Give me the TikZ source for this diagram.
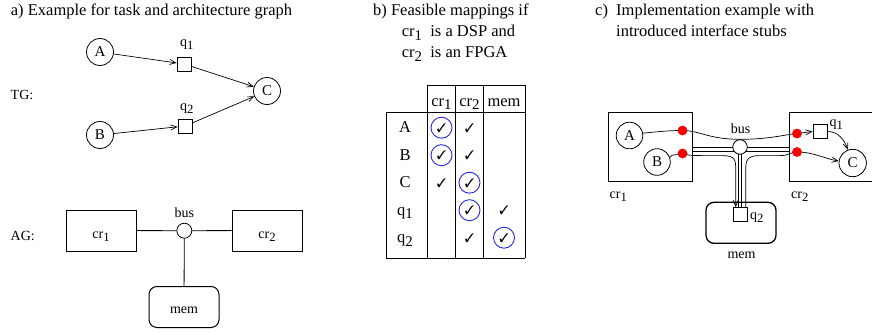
\documentclass[tikz,border=0pt]{standalone}
\usepackage{fontspec}
\setmainfont{Liberation Serif}
\usepackage{pifont}
\usetikzlibrary{arrows.meta,calc}
\newcommand\lsub[1]{\raisebox{-0.5ex}{\scalebox{0.9}{#1}}}
\definecolor{chkblue}{RGB}{40,40,230}
\definecolor{stubred}{RGB}{250,0,0}
\tikzset{
  ttl/.style={anchor=base west, font=\fontsize{16.5}{20}\selectfont, inner sep=0},
  lbl/.style={font=\fontsize{14}{16}\selectfont, inner sep=0},
  task/.style={circle, draw, line width=0.8pt, minimum size=27pt, inner sep=0, font=\fontsize{15}{16}\selectfont},
  comm/.style={rectangle, draw, line width=0.8pt, minimum size=14pt, inner sep=0},
  res/.style={rectangle, draw, line width=1pt, minimum width=70pt, minimum height=41pt, inner sep=0, font=\fontsize{14}{16}\selectfont, text height=15.6pt, text depth=0pt},
  memres/.style={res, rounded corners=8pt, text height=12.6pt},
  impres/.style={rectangle, draw, line width=1.3pt, minimum width=84pt, minimum height=69pt, inner sep=0},
  busnode/.style={circle, draw, fill=white, line width=0.8pt, minimum size=15pt, inner sep=0},
  arr/.style={line width=0.7pt, -{Straight Barb[length=6pt,width=5pt]}},
  link/.style={line width=0.8pt},
  sig/.style={line width=0.7pt},
  stub/.style={circle, fill=stubred, minimum size=9.5pt, inner sep=0},
  cell/.style={font=\fontsize{16.5}{18}\selectfont, inner sep=0, anchor=base},
  chk/.style={font=\fontsize{12.5}{14}\selectfont, inner sep=0},
  cchk/.style={chk, circle, draw=chkblue, line width=0.9pt, minimum size=21pt},
  grid/.style={line width=0.9pt}
}
\begin{document}
\begin{tikzpicture}[x=1pt,y=-1pt]
\useasboundingbox (0,0) rectangle (872,332);

% ---------- a) ----------
\node[ttl] (ta) at (10.7,16) {a) Example for task and architecture graph};
\node[lbl, anchor=base west] (tg) at (10.5,99.5) {TG:};
\node[task] (A) at (100,52) {A};
\node[task] (B) at (100,135) {B};
\node[task] (C) at (267,91) {C};
\node[comm] (q1) at (184,64) {};
\node[comm] (q2) at (185,126) {};
\node[lbl, anchor=base west] (q1l) at (180,46.5) {q\lsub{1}};
\node[lbl, anchor=base west] (q2l) at (180,110) {q\lsub{2}};
\draw[arr] (A) -- (q1);
\draw[arr] (q1) -- (C);
\draw[arr] (B) -- (q2);
\draw[arr] (q2) -- (C);

\node[lbl, anchor=base west] (ag) at (10.5,240) {AG:};
\node[res] (cr1a) at (101,230.5) {cr\lsub{1}};
\node[res] (cr2a) at (267,230.5) {cr\lsub{2}};
\node[memres] (mema) at (184,307) {mem};
\node[busnode] (busa) at (184.3,230.7) {};
\node[lbl, anchor=base] (busal) at (184.3,217.3) {bus};
\draw[link] (cr1a) -- (busa);
\draw[link] (busa) -- (cr2a);
\draw[link] (busa) -- (mema);

% ---------- b) ----------
\node[ttl] (tb1) at (373,15.5) {b) Feasible mappings if};
\node[ttl] (tb2) at (401.7,36.5) {cr\lsub{1}~ is a DSP and};
\node[ttl] (tb3) at (401.7,57.8) {cr\lsub{2}~ is an FPGA};

\draw[grid] (386,112.7) -- (525,112.7);
\draw[grid] (386,258.3) -- (525,258.3);
\draw[grid] (427.3,85) -- (525,85);
\draw[grid] (386,112.7) -- (386,258.3);
\draw[grid] (427.3,85) -- (427.3,258.3);
\draw[grid] (455.7,85) -- (455.7,258.3);
\draw[grid] (483.3,85) -- (483.3,258.3);
\draw[grid] (525,85) -- (525,258.3);

\node[cell] (hc1) at (441.5,106) {cr\lsub{1}};
\node[cell] (hc2) at (469.5,106) {cr\lsub{2}};
\node[cell] (hc3) at (504,106) {mem};
\node[cell] (rA) at (405,132.7) {A};
\node[cell] (rB) at (405,160.2) {B};
\node[cell] (rC) at (405,187.7) {C};
\node[cell] (rq1) at (405,215.2) {q\lsub{1}};
\node[cell] (rq2) at (405,242.7) {q\lsub{2}};

\node[cchk] (kA1) at (441.5,127.7) {\ding{51}};
\node[chk]  (kA2) at (469.5,127.7) {\ding{51}};
\node[cchk] (kB1) at (441.5,155.2) {\ding{51}};
\node[chk]  (kB2) at (469.5,155.2) {\ding{51}};
\node[chk]  (kC1) at (441.5,182.7) {\ding{51}};
\node[cchk] (kC2) at (469.5,182.7) {\ding{51}};
\node[cchk] (kq12) at (469.5,210.2) {\ding{51}};
\node[chk]  (kq13) at (504,210.2) {\ding{51}};
\node[chk]  (kq22) at (469.5,237.7) {\ding{51}};
\node[cchk] (kq23) at (504,237.7) {\ding{51}};

% ---------- c) ----------
\node[ttl] (tc0) at (595,15.5) {c)};
\node[ttl] (tc1) at (616,15.5) {Implementation example with};
\node[ttl] (tc2) at (616,36) {introduced interface stubs};

\node[impres] (cr1c) at (650.3,147.1) {};
\node[impres] (cr2c) at (831.5,147.1) {};
\node[lbl, anchor=base west] (cr1cl) at (609.5,198.3) {cr\lsub{1}};
\node[lbl, anchor=base west] (cr2cl) at (791,198.3) {cr\lsub{2}};
\node[rectangle, draw, line width=1.3pt, rounded corners=8pt, minimum width=70pt, minimum height=41pt, inner sep=0] (memc) at (741,222.8) {};
\node[lbl, anchor=base] (memcl) at (741.5,258.3) {mem};
\node[comm] (q2c) at (740.8,214.7) {};
\node[lbl, anchor=base west] (q2cl) at (750,219.3) {q\lsub{2}};

\node[task, minimum size=26.6pt] (Ac) at (629.5,135.5) {A};
\node[task, minimum size=26.6pt] (Bc) at (657,162) {B};
\node[task, minimum size=27.4pt] (Cc) at (852.7,163) {C};
\node[comm] (q1c) at (820,131.5) {};
\node[lbl, anchor=base west] (q1cl) at (829.5,126) {q\lsub{1}};

% bus channel (double lines)
\coordinate (busc) at (740,147);
\coordinate (busLow) at (740,151.8);
\coordinate (vL) at (738.3,147);
\coordinate (vR) at (741.7,147);
\draw[link] (cr1c.east |- busc) -- (cr2c.west |- busc);
\draw[link] (cr1c.east |- busLow) -- (cr2c.west |- busLow);
\draw[link] (vL) -- (vL |- q2c.north);
\draw[link] (vR) -- (vR |- q2c.north);
\node[busnode, minimum size=14.5pt] (busn) at (busc) {};
\node[lbl, anchor=base] (buscl) at (740.5,133) {bus};

% stubs
\node[stub] (L1) at (682.5,130.5) {};
\node[stub] (L2) at (682.5,153.5) {};
\node[stub] (R1) at (797,133.5) {};
\node[stub] (R2) at (797,152) {};

\coordinate (q2in) at (735.7,207.2);
\coordinate (q2out) at (745.7,207.2);
\coordinate (busdip) at (740,139.3);

% signals
\draw[sig] (Ac.10) to[out=5,in=180] (L1.center);
\draw[sig] (Bc.20) to[out=60,in=210] (L2.center);
\draw[sig] (L1.center) .. controls (700,130.5) and (708,139.3) .. (busdip) .. controls (770,139.3) and (785,134.5) .. (R1.center);
\draw[arr] (R1.center) -- (q1c.west);
\draw[arr] (q1c.east) to[out=0,in=110] (Cc.110);
\draw[arr] (R2.center) to[out=0,in=170] (Cc.172);
\draw[arr] (L2.center) .. controls (690,155.6) and (690,155.6) .. (705,155.6) -- (722,155.6) .. controls (735.7,155.6) and (735.7,160) .. (735.7,170) -- (q2in);
\draw[sig] (q2out) -- (745.7,170) .. controls (745.7,160) and (747,155.6) .. (760,155.6) -- (780,155.6) .. controls (790,155.6) and (790,152) .. (R2.center);

% redraw stubs on top
\node[stub] at (L1) {};
\node[stub] at (L2) {};
\node[stub] at (R1) {};
\node[stub] at (R2) {};
\end{tikzpicture}
\end{document}
